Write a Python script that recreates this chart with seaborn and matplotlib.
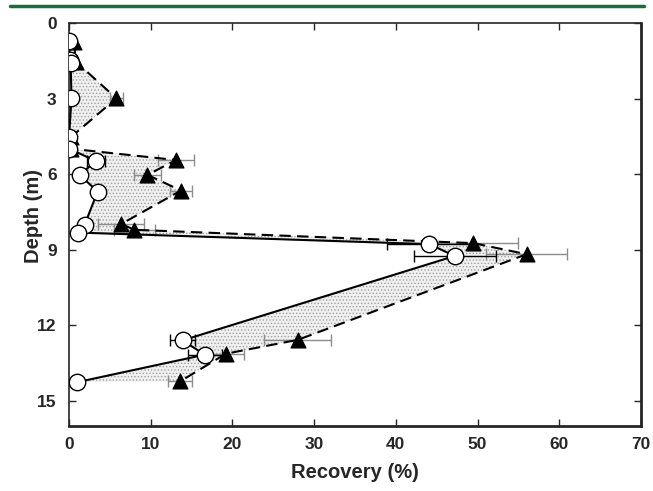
import seaborn as sns
import matplotlib.pyplot as plt
from matplotlib.lines import Line2D
import numpy as np
import pandas as pd

# open circles, solid line
circle_rec = [0.0, 0.1, 0.2, 0.3, 0.0, 0.0, 3.3, 1.3, 3.5, 1.9, 1.1, 44.1, 47.2, 13.9, 16.6, 1.0]
circle_depth = [0.71, 1.47, 1.59, 2.98, 4.54, 4.99, 5.48, 6.03, 6.69, 8.02, 8.32, 8.78, 9.25, 12.60, 13.17, 14.26]
circle_err = [0, 0, 0, 0, 0, 0, 1.1, 0, 0, 0.6, 0, 5.2, 5.0, 1.5, 2.1, 0]

# filled triangles, dashed line
tri_rec = [0.6, 0.85, 5.8, 0.2, 0.2, 13.1, 9.6, 13.7, 6.4, 8.0, 49.5, 56.0, 28.0, 19.2, 13.6]
tri_depth = [0.75, 1.54, 2.99, 4.54, 4.99, 5.44, 6.03, 6.65, 7.98, 8.21, 8.74, 9.18, 12.58, 13.13, 14.23]
tri_err = [0, 0, 0.8, 0, 0, 2.2, 1.6, 1.3, 2.8, 2.5, 5.5, 5.0, 4.1, 2.2, 1.5]

x_ticks = [0, 10, 20, 30, 40, 50, 60, 70]
y_ticks = [0, 3, 6, 9, 12, 15]

dfC = pd.DataFrame({'rec': circle_rec, 'depth': circle_depth, 'err': circle_err})
dfT = pd.DataFrame({'rec': tri_rec, 'depth': tri_depth, 'err': tri_err})

sns.set_style('ticks')
plt.rcParams['font.family'] = ['Liberation Sans', 'DejaVu Sans']
plt.rcParams['font.weight'] = 'bold'
plt.rcParams['hatch.linewidth'] = 0.6

fig = plt.figure(figsize=(6.53, 4.91), dpi=100)
ax = fig.add_axes([0.1057, 0.1324, 0.8759, 0.8207])

# stippled area between the two profiles
poly_x = np.concatenate([dfC['rec'].values, dfT['rec'].values[::-1]])
poly_y = np.concatenate([dfC['depth'].values, dfT['depth'].values[::-1]])
ax.fill(poly_x, poly_y, facecolor='#f0f0f0', edgecolor='#a0a0a0', hatch='.....', lw=0, zorder=1)

# error bars
t = dfT[dfT['err'] > 0]
ax.errorbar(t['rec'], t['depth'], xerr=t['err'], fmt='none', ecolor='#8c8c8c', elinewidth=1, capsize=4, zorder=2)
c = dfC[dfC['err'] > 0]
ax.errorbar(c['rec'], c['depth'], xerr=c['err'], fmt='none', ecolor='black', elinewidth=1, capsize=4, zorder=2)

sns.lineplot(data=dfT, x='rec', y='depth', sort=False, estimator=None, ax=ax, color='black', lw=1.5,
             dashes=False, zorder=3).lines[-1].set_dashes([5.5, 3])
sns.lineplot(data=dfC, x='rec', y='depth', sort=False, estimator=None, ax=ax, color='black', lw=1.5, zorder=3)
sns.scatterplot(data=dfT, x='rec', y='depth', ax=ax, marker='^', s=115, color='black', edgecolor='black', zorder=4)
sns.scatterplot(data=dfC, x='rec', y='depth', ax=ax, marker='o', s=140, color='white', edgecolor='black',
                linewidth=1, zorder=5)

ax.set_xlim(0, 70)
ax.set_ylim(16, 0)
ax.set_xticks(x_ticks)
ax.set_yticks(y_ticks)
ax.tick_params(direction='in', top=True, right=True, length=5, width=1, labelsize=12.5)
ax.tick_params(axis='y', pad=9)
ax.tick_params(axis='x', pad=8)
for lab in ax.get_xticklabels() + ax.get_yticklabels():
    lab.set_fontweight('bold')
ax.set_xlabel('Recovery (%)', fontsize=14.5, fontweight='bold', labelpad=8)
ax.set_ylabel('Depth (m)', fontsize=14.5, fontweight='bold')
ax.yaxis.set_label_coords(-0.046, 0.52)
for side in ['top', 'left']:
    ax.spines[side].set_linewidth(1.2)
for side in ['bottom', 'right']:
    ax.spines[side].set_linewidth(2.0)

fig.add_artist(Line2D([0.015, 0.986], [0.988, 0.988], transform=fig.transFigure, color='#1e6a3e', lw=2.5))

plt.savefig('out.png', dpi=100)
